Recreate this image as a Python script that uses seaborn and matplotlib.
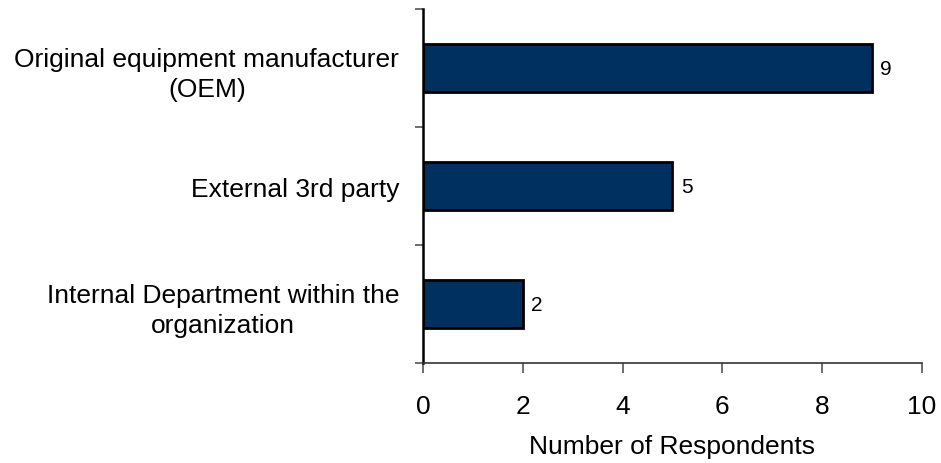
import matplotlib
matplotlib.use("Agg")
import matplotlib.pyplot as plt
import seaborn as sns
import pandas as pd
from matplotlib.ticker import FixedLocator

categories = [
    "Original equipment manufacturer\n(OEM)",
    "External 3rd party",
    "Internal Department within the\norganization",
]
respondents = [9, 5, 2]
x_ticks = [0, 2, 4, 6, 8, 10]
x_label = "Number of Respondents"

sns.set_style("white")
plt.rcParams["font.family"] = ["Liberation Sans", "DejaVu Sans"]
plt.rcParams["text.color"] = "black"
plt.rcParams["xtick.labelcolor"] = "black"
plt.rcParams["ytick.labelcolor"] = "black"
plt.rcParams["axes.labelcolor"] = "black"

df = pd.DataFrame({"source": categories, "count": respondents})

fig = plt.figure(figsize=(9.41, 4.64), dpi=100)
ax = fig.add_axes([0.4495, 0.2155, 0.9798 - 0.4495, 0.9784 - 0.2155])

sns.barplot(data=df, x="count", y="source", orient="h", color="#00305F",
            saturation=1, edgecolor="black", linewidth=2.0, width=0.4, ax=ax)

ax.set_xlim(0, 10)
ax.set_ylim(2.5, -0.5)
ax.set_xticks(x_ticks)
ax.set_xticklabels([str(t) for t in x_ticks])
ax.set_xlabel(x_label, fontsize=19, labelpad=12, color="black")
ax.set_ylabel("")

# category boundaries carry the tick marks, labels sit at the bar centres
ax.yaxis.set_minor_locator(FixedLocator([-0.5, 0.5, 1.5, 2.5]))
ax.tick_params(axis="y", which="major", length=0, pad=17, labelsize=19,
               labelcolor="black")
ax.tick_params(axis="y", which="minor", left=True, length=6, width=1.2,
               color="#555555")
ax.tick_params(axis="x", which="major", bottom=True, length=7, width=1.2,
               color="#555555", labelsize=19, pad=15, labelcolor="black")
for lbl in ax.get_yticklabels():
    lbl.set_multialignment("center")
    lbl.set_linespacing(1.32)

for side in ("top", "right"):
    ax.spines[side].set_visible(False)
ax.spines["left"].set_color("black")
ax.spines["left"].set_linewidth(1.8)
ax.spines["bottom"].set_color("#333333")
ax.spines["bottom"].set_linewidth(1.2)
ax.grid(False)

ax.bar_label(ax.containers[0], labels=[str(v) for v in respondents],
             padding=6, fontsize=15, color="black")

fig.savefig("out.png", dpi=100)
